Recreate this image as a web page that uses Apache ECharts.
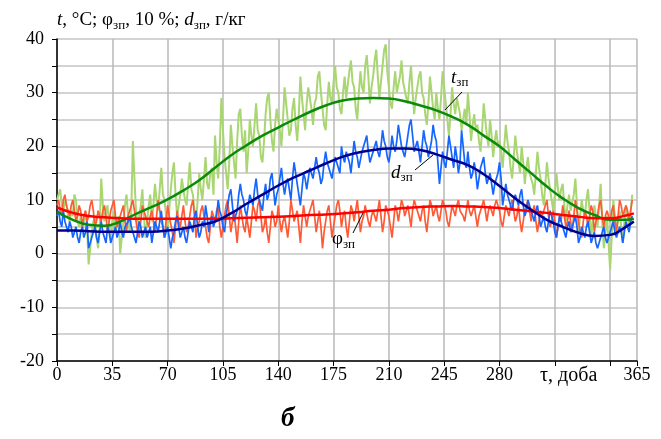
<!DOCTYPE html>
<html><head><meta charset="utf-8">
<script src="https://cdn.jsdelivr.net/npm/echarts@6/dist/echarts.min.js"></script>
<style>html,body{margin:0;padding:0;background:#fff}#c{width:661px;height:439px}</style>
</head><body><div id="c"></div>
<script>
// daily noisy series, day 0..364
var tNoisy = [
 10,11,12,9,8,10,9,7,6,8,7,11,10,6,5,7,4,6,8,5,
 -2,1,4,6,7,3,1,5,14,9,6,8,9,5,3,6,8,4,5,7,
 0,3,6,9,11,7,4,8,21,14,8,5,5,9,12,7,3,6,9,11,
 6,9,13,10,8,12,16,11,10,7,4,8,12,15,17,11,7,9,11,14,
 14,10,9,13,17,12,11,8,6,10,15,12,10,14,18,13,12,15,16,11,
 22,17,14,20,29,23,18,15,12,17,24,20,17,14,21,26,27,22,19,23,
 15,19,25,22,20,24,28,23,22,18,17,21,26,29,30,25,21,19,24,27,
 27,23,20,25,31,28,25,22,23,27,29,24,21,26,33,29,26,23,28,31,
 31,27,24,28,29,33,34,30,27,24,23,28,32,29,28,32,35,31,30,27,
 26,30,33,29,29,34,36,32,31,27,25,30,34,31,30,35,37,33,28,31,
 33,36,38,33,29,32,35,38,39,34,31,28,27,31,34,30,30,33,36,32,
 32,29,28,32,35,30,26,29,31,33,34,30,29,26,24,28,33,30,27,25,
 30,27,25,29,34,31,28,25,22,26,31,28,26,29,29,26,23,25,27,24,
 30,26,21,24,26,23,24,21,19,23,28,25,22,20,25,22,18,21,23,20,
 21,19,16,20,24,21,19,16,14,18,22,19,17,15,20,17,13,16,18,15,
 15,13,11,15,19,16,14,11,9,13,17,14,12,10,8,11,15,12,10,12,
 13,9,6,9,11,8,8,11,14,9,4,7,10,8,7,10,12,8,3,6,
 9,7,5,9,13,6,1,4,7,2,-3,3,10,7,4,6,8,5,2,6,
 9,7,5,8,11];
var dNoisy = [
 7,8,6,5,8,6,5,4,6,5,3,4,5,3,2,4,5,3,4,6,
 1,2,3,4,5,3,2,4,6,4,3,2,5,4,2,3,4,5,3,4,
 6,4,3,5,5,6,7,5,4,3,2,4,6,5,3,4,5,3,4,5,
 2,4,6,5,4,6,8,5,3,4,5,3,1,3,4,6,7,5,3,4,
 5,3,2,4,6,5,4,7,8,5,3,4,6,5,9,7,4,6,7,5,
 5,7,10,8,7,5,4,7,9,11,12,9,6,7,8,11,13,11,10,8,
 7,9,11,10,9,12,14,11,10,9,8,11,13,10,11,14,15,12,9,11,
 12,14,16,13,11,13,14,12,10,14,17,15,13,11,9,12,15,14,12,14,
 16,15,14,16,18,16,15,13,14,17,19,17,17,15,14,16,18,17,16,15,
 20,18,17,19,19,17,15,18,21,19,18,16,16,19,20,21,22,19,17,18,
 19,20,21,19,18,20,23,21,20,18,17,19,22,20,19,21,24,22,20,19,
 18,20,22,24,25,22,19,20,21,19,17,20,23,21,20,18,18,21,24,22,
 21,17,13,16,19,17,16,19,22,20,18,16,20,18,15,17,23,20,17,16,
 19,16,14,15,17,15,12,14,16,17,18,15,13,14,15,13,11,13,14,15,
 17,14,9,11,13,11,10,9,8,10,11,10,9,11,12,9,7,8,10,9,
 8,7,6,8,9,7,5,6,7,5,4,6,8,7,6,4,3,5,7,6,
 5,4,3,5,6,4,4,6,7,5,2,3,5,4,3,5,6,4,2,3,
 4,2,1,2,3,4,5,3,2,3,4,5,6,4,3,4,5,4,2,4,
 6,5,4,6,7];
var phiNoisy = [
 9,10,8,7,10,11,9,8,7,9,10,8,6,7,9,8,5,7,8,6,
 7,9,10,8,5,6,8,7,6,8,9,7,4,6,8,9,10,7,5,6,
 7,8,9,6,4,7,8,9,10,8,6,4,3,6,9,8,7,6,5,7,
 8,6,4,7,10,8,6,5,3,6,9,7,7,4,2,5,8,6,5,7,
 9,6,4,5,7,9,10,7,3,5,6,8,9,7,5,3,2,5,8,7,
 6,8,9,5,3,5,7,9,10,7,4,6,8,5,2,6,9,7,5,4,
 7,5,3,6,9,8,6,9,10,7,4,5,7,4,2,5,8,7,5,6,
 9,6,4,6,7,5,3,6,10,8,6,7,8,5,2,6,9,7,5,7,
 7,9,10,7,4,6,8,5,1,4,6,8,9,6,3,5,7,9,10,8,
 5,7,8,5,3,6,9,8,6,8,10,7,4,6,7,9,9,6,5,7,
 8,7,6,8,10,7,4,6,9,8,7,5,3,6,9,8,6,8,10,9,
 7,8,9,7,5,8,10,9,8,7,6,8,9,6,4,7,10,9,7,8,
 9,7,6,8,10,9,8,6,5,7,9,8,7,9,10,8,8,7,6,8,
 10,8,7,8,9,7,5,7,8,9,10,8,6,8,9,8,7,9,10,9,
 8,6,5,7,9,8,7,9,10,8,6,7,9,6,4,6,8,9,10,8,
 6,8,9,6,4,6,8,7,7,9,10,7,5,6,8,6,3,5,7,6,
 9,7,5,6,8,6,4,7,10,8,6,4,3,6,8,7,5,7,9,8,
 4,6,7,9,10,7,5,7,8,7,6,8,9,6,4,7,10,9,7,8,
 9,8,6,8,10];
// fitted curves
var fitDays = [0,10,20,30,40,50,60,70,80,90,100,110,120,130,140,150,160,170,180,190,200,210,220,230,240,250,260,270,280,290,300,310,320,330,340,350,360,365];
var tFit = [7.8,6.3,5.4,5.2,6.0,7.4,8.7,10.1,11.8,13.7,16.0,18.3,20.2,22.0,23.5,25.0,26.4,27.6,28.5,28.9,29.0,28.9,28.4,27.6,26.7,25.5,24.0,22.0,20.0,17.5,15.0,12.5,10.3,8.5,7.2,6.3,6.3,6.5];
var dFit = [4.3,4.3,4.2,4.1,4.1,4.1,4.1,4.3,4.7,5.3,6.0,7.5,9.3,11.0,12.7,14.2,15.5,16.8,18.0,18.8,19.3,19.6,19.6,19.3,18.5,17.5,16.5,14.8,12.6,10.3,8.2,6.3,5.0,3.9,3.3,3.5,5.0,6.0];
var phiFit = [8.6,7.6,7.0,6.8,6.6,6.5,6.5,6.5,6.5,6.5,6.5,6.6,6.7,6.8,6.9,7.0,7.2,7.3,7.5,7.7,8.0,8.2,8.5,8.7,8.8,8.9,8.8,8.7,8.5,8.2,7.9,7.6,7.2,6.9,6.6,6.6,7.1,7.5];
var xTicks = [0,35,70,105,140,175,210,245,280];
var yTicks = [-20,-10,0,10,20,30,40];

var X_MAX = 367;
function noisy(arr){ return arr.map(function(v,i){ return [i, v]; }); }
function fit(arr){ return arr.map(function(v,i){ return [fitDays[i], v]; }); }

var FONT = '"Liberation Serif","Times New Roman",serif';
var chart = echarts.init(document.getElementById('c'), null, {renderer:'canvas'});
function st(size, italic, pad){ var o={fontFamily:FONT, fontSize:size, fontWeight:'normal', color:'#000', fill:'#000'}; if(italic) o.fontStyle='italic'; if(pad) o.padding=[pad,0,0,0]; return o; }

chart.setOption({
  animation:false,
  backgroundColor:'#fff',
  title:{left:52, top:3, text:'{i|t}{n|, °C; φ}{s|зп}{n|, 10 %; }{i|d}{s|зп}{n|, г/кг}',
    textStyle:{fontWeight:'normal', rich:{i:st(19,true), n:st(19,false), s:st(13,false,11)}}},
  grid:{left:57, right:24, top:39, bottom:78},
  xAxis:{type:'value', min:0, max:X_MAX, interval:35,
    axisLine:{show:true, onZero:false, lineStyle:{color:'#000', width:1.5}},
    axisTick:{show:true, length:5, lineStyle:{color:'#000'}},
    splitLine:{show:true, lineStyle:{color:'#b8b8b8', width:1.5}},
    axisLabel:{fontFamily:FONT, fontSize:18, color:'#000', margin:5, showMaxLabel:true,
      formatter:function(v){ if(v===X_MAX) return '365'; return xTicks.indexOf(v)>=0 ? String(v) : ''; }}
  },
  yAxis:{type:'value', min:-20, max:40, interval:5,
    axisLine:{show:true, onZero:false, lineStyle:{color:'#000', width:1.5}},
    axisTick:{show:true, length:5, lineStyle:{color:'#000'}},
    splitLine:{show:true, lineStyle:{color:'#c4c4c4', width:1.5}},
    axisLabel:{fontFamily:FONT, fontSize:18, color:'#000', margin:13,
      formatter:function(v){ return yTicks.indexOf(v)>=0 ? String(v) : ''; }}
  },
  series:[
    {type:'line', data:noisy(tNoisy), showSymbol:false, lineStyle:{color:'#a9d673', width:2}, z:2},
    {type:'line', data:noisy(phiNoisy), showSymbol:false, lineStyle:{color:'#ff5a36', width:1.7}, z:3},
    {type:'line', data:noisy(dNoisy), showSymbol:false, lineStyle:{color:'#1565ff', width:1.7}, z:4},
    {type:'line', data:fit(tFit), smooth:true, showSymbol:false, lineStyle:{color:'#0a8a0a', width:2.5}, z:5},
    {type:'line', data:fit(phiFit), smooth:true, showSymbol:false, lineStyle:{color:'#ff0000', width:2.5}, z:6},
    {type:'line', data:fit(dFit), smooth:true, showSymbol:false, lineStyle:{color:'#00008f', width:2.5}, z:7}
  ],
  graphic:[
    {type:'text', left:540, top:366, style:{text:'τ, доба', fontFamily:FONT, fontSize:20, fill:'#000'}},
    {type:'text', left:451, top:68, z:20, style:{text:'{i|t}{s|зп}', rich:{i:st(19,true), s:st(13,false,11)}}},
    {type:'line', z:20, shape:{x1:462, y1:92, x2:445, y2:110}, style:{stroke:'#000', lineWidth:1}},
    {type:'text', left:391, top:163, z:20, style:{text:'{i|d}{s|зп}', rich:{i:st(19,true), s:st(13,false,11)}}},
    {type:'line', z:20, shape:{x1:415, y1:170, x2:433, y2:155}, style:{stroke:'#000', lineWidth:1}},
    {type:'text', left:332, top:230, z:20, style:{text:'{n|φ}{s|зп}', rich:{n:st(19,false), s:st(13,false,11)}}},
    {type:'line', z:20, shape:{x1:353, y1:233, x2:363, y2:213}, style:{stroke:'#000', lineWidth:1}},
    {type:'text', left:281, top:406, style:{text:'б', fontFamily:FONT, fontSize:27, fontWeight:'bold', fontStyle:'italic', fill:'#000'}}
  ]
});
</script></body></html>
